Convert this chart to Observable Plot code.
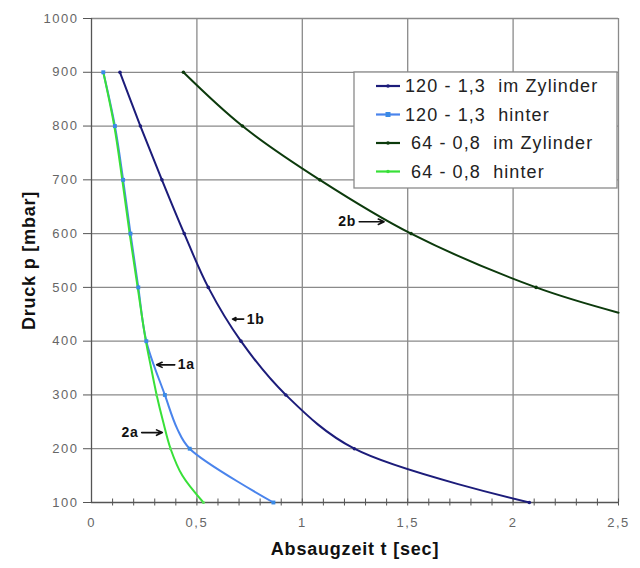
<!DOCTYPE html>
<html><head><meta charset="utf-8">
<script src="https://cdn.jsdelivr.net/npm/d3@7"></script>
<script src="https://cdn.jsdelivr.net/npm/@observablehq/plot@0.6"></script>
<style>
body{margin:0;background:#fff;}
#chart{position:relative;width:640px;height:568px;}
</style></head><body><div id="chart"></div>
<script>
// ---- data ----
const seriesNames = ["120 - 1,3  im Zylinder", "120 - 1,3  hinter", " 64 - 0,8  im Zylinder", " 64 - 0,8  hinter"];
const seriesColors = ["#1c1c7a", "#4a84ec", "#0c3a0c", "#38e038"];

const t120Zyl = [0.135, 0.232, 0.334, 0.440, 0.554, 0.709, 0.922, 1.247, 2.077];
const p120Zyl = [900, 800, 700, 600, 500, 400, 300, 200, 100];

const t120Hin = [0.056, 0.111, 0.150, 0.185, 0.222, 0.260, 0.348, 0.407, 0.466, 0.863];
const p120Hin = [900, 800, 700, 600, 500, 400, 300, 237, 200, 100];

const t64Zyl = [0.436, 0.716, 1.083, 1.516, 2.109, 2.5];
const p64Zyl = [900, 800, 700, 600, 500, 453];

const t64Hin = [0.056, 0.108, 0.146, 0.181, 0.219, 0.258, 0.283, 0.309, 0.340, 0.375, 0.431, 0.531];
const p64Hin = [900, 800, 700, 600, 500, 400, 350, 300, 250, 200, 150, 100];

const xTicks = [0, 0.5, 1, 1.5, 2, 2.5];
const xTickLabels = ["0", "0,5", "1", "1,5", "2", "2,5"];
const xMinorTicks = [0.1,0.2,0.3,0.4,0.5,0.6,0.7,0.8,0.9,1.0,1.1,1.2,1.3,1.4,1.5,1.6,1.7,1.8,1.9,2.0,2.1,2.2,2.3,2.4,2.5];
const yTicks = [100, 200, 300, 400, 500, 600, 700, 800, 900, 1000];

const annLabels = ["1b", "1a", "2a", "2b"];
const annTail = [0.722, 0.395, 0.238, 1.270];
const annTip = [0.669, 0.309, 0.336, 1.388];
const annP = [441, 356, 230, 622];
const annSide = ["right", "right", "left", "left"];

const xTitle = "Absaugzeit t [sec]";
const yTitle = "Druck p [mbar]";

// ---- build table ----
const ts = [t120Zyl, t120Hin, t64Zyl, t64Hin];
const ps = [p120Zyl, p120Hin, p64Zyl, p64Hin];
const rows = [];
seriesNames.forEach((name, i) => ts[i].forEach((t, j) => rows.push({series: name, idx: i, t, p: ps[i][j]})));
const markerRows = rows.filter(d => d.p % 100 === 0);
const anns = annLabels.map((l, i) => ({label: l, x1: annTail[i], x2: annTip[i], y: annP[i], side: annSide[i]}));

const font = "Liberation Sans, Arial, Helvetica, sans-serif";

const plot = Plot.plot({
  width: 640, height: 568,
  marginTop: 18, marginLeft: 91, marginRight: 22, marginBottom: 66,
  style: {fontFamily: font, background: "#fff", color: "#555", overflow: "visible"},
  x: {domain: [0, 2.5]},
  y: {domain: [100, 1000]},
  color: {domain: seriesNames, range: seriesColors},
  marks: [
    Plot.gridX(xTicks.slice(1), {stroke: "#8a8a8a", strokeOpacity: 1, strokeWidth: 1.3}),
    Plot.gridY(yTicks.slice(1), {stroke: "#8a8a8a", strokeOpacity: 1, strokeWidth: 1.3}),
    Plot.ruleX([0], {stroke: "#555", strokeWidth: 1.3}),
    Plot.ruleY([100], {stroke: "#555", strokeWidth: 1.3}),
    Plot.axisX({ticks: xMinorTicks, tickSize: 7, dy: -3.5, tickFormat: () => "", label: null, stroke: "#555"}),
    Plot.axisX({ticks: xTicks, tickSize: 0, tickPadding: 15, tickFormat: (d, i) => xTickLabels[i], label: null, fontSize: 13, fill: "#666"}),
    Plot.axisY({ticks: yTicks, tickSize: 8, tickPadding: 5, tickFormat: d => String(d), label: null, fontSize: 13, fill: "#666", stroke: "#555"}),
    Plot.line(rows, {x: "t", y: "p", z: "series", stroke: "series", strokeWidth: 2, curve: "catmull-rom"}),
    Plot.dot(markerRows.filter(d => d.idx === 1), {x: "t", y: "p", symbol: "square", r: 2.2, fill: "#3a8ae6"}),
    Plot.dot(markerRows.filter(d => d.idx === 0 || d.idx === 2), {x: "t", y: "p", r: 1.8, fill: "series"}),
    Plot.dot(markerRows.filter(d => d.idx === 3 && d.p < 400), {x: "t", y: "p", r: 1.5, fill: "#5be05b"}),
    Plot.arrow(anns, {x1: "x1", y1: "y", x2: "x2", y2: "y", stroke: "#111", strokeWidth: 1.6, headLength: 6, headAngle: 50}),
    Plot.text(anns.filter(d => d.side === "right"), {x: "x1", y: "y", text: "label", textAnchor: "start", dx: 3, fontWeight: "bold", fontSize: 14, fill: "#111"}),
    Plot.text(anns.filter(d => d.side === "left"), {x: "x1", y: "y", text: "label", textAnchor: "end", dx: -3, fontWeight: "bold", fontSize: 14, fill: "#111"}),
    Plot.text([xTitle], {frameAnchor: "bottom", textAnchor: "middle", dy: 52, fontWeight: "bold", fontSize: 18, fill: "#111"}),
    Plot.text([yTitle], {frameAnchor: "left", textAnchor: "middle", dx: -62, rotate: -90, fontWeight: "bold", fontSize: 18, fill: "#111"})
  ]
});

document.getElementById("chart").appendChild(plot);

const svg = d3.select(plot);
svg.selectAll('g[aria-label="y-axis tick label"] text, g[aria-label="x-axis tick label"] text').style("letter-spacing", "1.5px");
svg.selectAll('g[aria-label="text"] text').style("letter-spacing", "0.8px");

// ---- legend ----
const lg = svg.append("g").attr("font-family", font).attr("text-anchor", "start");
lg.append("rect").attr("x", 354).attr("y", 72).attr("width", 263).attr("height", 116)
  .attr("fill", "#fff").attr("stroke", "#8a8a8a").attr("stroke-width", 1.3);
seriesNames.forEach((name, i) => {
  const cy = 86 + i * 28.5;
  lg.append("line").attr("x1", 376).attr("x2", 400).attr("y1", cy).attr("y2", cy)
    .attr("stroke", seriesColors[i]).attr("stroke-width", 2.2);
  if (i === 1) lg.append("rect").attr("x", 385.5).attr("y", cy - 2.5).attr("width", 5).attr("height", 5).attr("fill", "#3a8ae6");
  else lg.append("circle").attr("cx", 388).attr("cy", cy).attr("r", 1.8).attr("fill", seriesColors[i]);
  lg.append("text").attr("x", 405).attr("y", cy).attr("dy", "0.36em").attr("text-anchor", "start")
    .attr("font-size", 18).attr("fill", "#222").style("letter-spacing", "1.1px").style("white-space", "pre")
    .text(name);
});
</script>
</body></html>
